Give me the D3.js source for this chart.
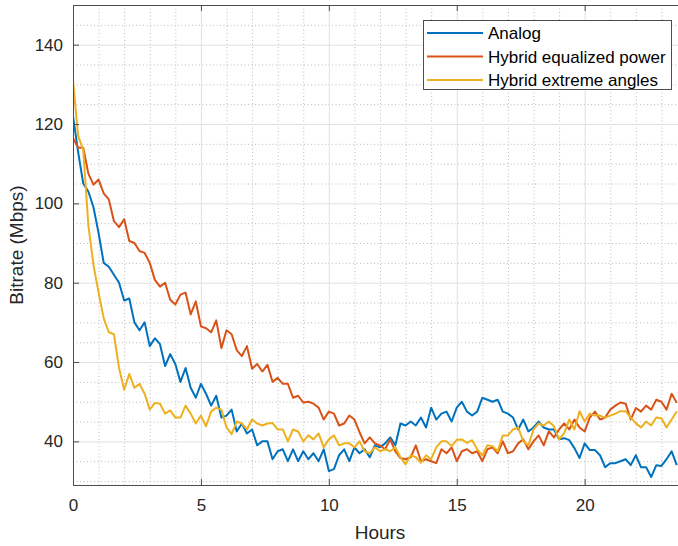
<!DOCTYPE html>
<html>
<head>
<meta charset="utf-8">
<script src="https://cdn.jsdelivr.net/npm/d3@7"></script>
<style>
  html, body { margin: 0; padding: 0; background: #fff; overflow: hidden; }
  svg { display: block; font-family: "Liberation Sans", Arial, sans-serif; }
</style>
</head>
<body>
<div id="chart"></div>
<script>
// sample spacing in hours
const STEP = 0.2;

const analog = [
  122, 113, 105, 103, 99, 92.5, 85, 84, 82, 80,
  75.5, 76, 70, 68, 70, 64, 66, 64.5, 59, 62,
  59.5, 55, 58.5, 53.5, 51, 54.5, 52, 49, 51.5, 46,
  46.5, 48, 42.5, 44.5, 42, 43, 39, 40, 40, 35.5,
  37.5, 38, 35, 38, 35, 37.5, 35.5, 37, 35, 38,
  32.5, 33, 36.5, 38, 35, 38.5, 37, 38, 36, 39,
  38.5, 39.5, 41, 39, 44.5, 44, 45, 44, 46, 43.5,
  48.5, 45.5, 47, 47.5, 45, 48.5, 50, 47.5, 46.5, 47.5,
  51, 50.5, 50, 50.5, 47.5, 47, 46, 43, 45.5, 42.5,
  43.5, 45, 43.5, 43, 43, 40.5, 40.8, 40.3, 38.3, 35.8,
  39.5, 37.8, 37.8, 36.5, 33.5, 34.5, 34.5, 35, 35.5, 34,
  36.5, 33.5, 33.5, 31, 34, 33.8, 35.5, 37.5, 34
];

const hybridEqualized = [
  116.5, 114, 114, 107.5, 104.7, 106, 102.5, 101, 95.5, 94,
  96, 90.5, 90, 88, 87.5, 85, 80.7, 79, 80, 75.7,
  74.5, 77, 77.5, 72, 75.3, 69, 68.5, 67.5, 70.5, 63.5,
  68, 67, 63, 61.5, 64, 58.3, 59.5, 57.6, 59.3, 55,
  56, 54.5, 54.5, 51, 51.5, 49.8, 50, 49.5, 48.5, 45.5,
  47.5, 47, 44, 44.5, 46.5, 45.5, 42.3, 39.5, 41, 39.5,
  39, 38, 40.5, 37.5, 35.8, 35.5, 36, 39, 35, 35.5,
  35, 34.5, 38, 37, 38.5, 35, 37.5, 38, 37, 37.5,
  35, 38, 38.5, 37, 40, 37, 37.5, 39.5, 40.5, 38,
  40, 41.5, 39, 42.5, 41, 43, 44.5, 43, 45.5, 43.5,
  42.5, 46, 47.5, 45.5, 46, 48, 49, 49.8, 49.5, 45.5,
  48.4, 47.5, 49, 48, 50.5, 50, 48, 52, 49.7
];

const hybridExtreme = [
  131, 117, 113.5, 94.5, 84.5, 77.5, 71, 67.5, 67, 58.5,
  53, 57, 53.5, 54.5, 52, 48, 49.7, 49.5, 47, 47.8,
  46, 46, 49, 47, 44.5, 46.5, 43.8, 47.5, 48.5, 48,
  43.5, 41.8, 45, 44.5, 43, 45.5, 44.5, 44, 44.5, 44.6,
  43, 43, 40, 43, 42.5, 40, 41.5, 40.5, 42, 38.5,
  40.5, 41.5, 39, 39.5, 39.5, 38.5, 40, 37.5, 37, 38.5,
  37.5, 38, 37.5, 38.5, 36, 34.2, 36.5, 36, 34.6, 36.5,
  35.5, 38.5, 40, 40, 38.8, 40.4, 40.5, 39.6, 40.3, 38,
  36.5, 39, 38.8, 37.5, 41.5, 41.5, 43, 43.5, 40, 39,
  43, 44.5, 44, 45, 43.8, 40.5, 42.1, 45.5, 43, 47.6,
  45, 47, 46.5, 46.5, 46, 46.5, 47, 47.6, 47.6, 46,
  44.6, 43.5, 45, 44, 46, 45.8, 43.5, 45.5, 47.6
];

const seriesNames = ['Analog', 'Hybrid equalized power', 'Hybrid extreme angles'];
const xTicks = [0, 5, 10, 15, 20];
const yTicks = [40, 60, 80, 100, 120, 140];

(function() {
  'use strict';

  const CONFIG = {
    width: 678,
    height: 546,
    left: 73,
    top: 5,
    plotW: 614,
    plotH: 480,
    xMax: 24,
    yMin: 29,
    yMax: 150,
    colors: ['#0072BD', '#D95319', '#EDB120'],
    axisColor: '#4d4d4d',
    textColor: '#262626'
  };

  const svg = d3.select('#chart')
    .append('svg')
    .attr('width', CONFIG.width)
    .attr('height', CONFIG.height);

  const x = d3.scaleLinear().domain([0, CONFIG.xMax]).range([CONFIG.left, CONFIG.left + CONFIG.plotW]);
  const y = d3.scaleLinear().domain([CONFIG.yMin, CONFIG.yMax]).range([CONFIG.top + CONFIG.plotH, CONFIG.top]);
  const x0 = CONFIG.left, x1 = CONFIG.left + CONFIG.plotW;
  const y0 = CONFIG.top + CONFIG.plotH, y1 = CONFIG.top;

  // minor grid (dotted)
  const minorX = d3.range(1, CONFIG.xMax).filter(v => v % 5 !== 0);
  const minorY = d3.range(30, CONFIG.yMax, 5).filter(v => v % 20 !== 0);

  svg.append('g').selectAll('line')
    .data(minorX).enter().append('line')
    .attr('x1', d => x(d) + 0.5).attr('x2', d => x(d) + 0.5)
    .attr('y1', y1).attr('y2', y0)
    .attr('stroke', '#bcbcbc').attr('stroke-width', 1)
    .attr('stroke-dasharray', '1,2.5');

  svg.append('g').selectAll('line')
    .data(minorY).enter().append('line')
    .attr('x1', x0).attr('x2', x1)
    .attr('y1', d => y(d) + 0.5).attr('y2', d => y(d) + 0.5)
    .attr('stroke', '#bcbcbc').attr('stroke-width', 1)
    .attr('stroke-dasharray', '1,2.5');

  // major grid
  svg.append('g').selectAll('line')
    .data(xTicks.filter(d => d > 0)).enter().append('line')
    .attr('x1', d => x(d) + 0.5).attr('x2', d => x(d) + 0.5)
    .attr('y1', y1).attr('y2', y0)
    .attr('stroke', '#e0e0e0').attr('stroke-width', 1);

  svg.append('g').selectAll('line')
    .data(yTicks).enter().append('line')
    .attr('x1', x0).attr('x2', x1)
    .attr('y1', d => y(d) + 0.5).attr('y2', d => y(d) + 0.5)
    .attr('stroke', '#e0e0e0').attr('stroke-width', 1);

  // data lines
  svg.append('clipPath').attr('id', 'plot-clip')
    .append('rect')
    .attr('x', x0).attr('y', y1)
    .attr('width', CONFIG.plotW).attr('height', CONFIG.plotH);

  const allSeries = [analog, hybridEqualized, hybridExtreme];
  const line = d3.line()
    .x((d, i) => x(i * STEP))
    .y(d => y(d));

  const lines = svg.append('g').attr('clip-path', 'url(#plot-clip)');
  allSeries.forEach((values, k) => {
    lines.append('path')
      .datum(values)
      .attr('d', line)
      .attr('fill', 'none')
      .attr('stroke', CONFIG.colors[k])
      .attr('stroke-width', 2)
      .attr('stroke-linejoin', 'round');
  });

  // axes
  const xAxis = d3.axisBottom(x).tickValues(xTicks).tickSizeInner(-6).tickSizeOuter(0).tickPadding(14);
  const xTop = d3.axisTop(x).tickValues(xTicks).tickSizeInner(-6).tickSizeOuter(0).tickFormat('');
  const yAxis = d3.axisLeft(y).tickValues(yTicks).tickSizeInner(-6).tickSizeOuter(0).tickPadding(10);

  const styleAxis = g => {
    g.select('.domain').attr('stroke', CONFIG.axisColor);
    g.selectAll('.tick line').attr('stroke', CONFIG.axisColor);
    g.selectAll('.tick text')
      .attr('fill', CONFIG.textColor)
      .attr('font-size', '17px')
      .attr('font-family', '"Liberation Sans", Arial, sans-serif');
  };

  svg.append('g').attr('transform', `translate(0,${y0})`).call(xAxis).call(styleAxis);
  svg.append('g').attr('transform', `translate(0,${y1})`).call(xTop).call(styleAxis);
  svg.append('g').attr('transform', `translate(${x0},0)`).call(yAxis).call(styleAxis);

  // axis labels
  svg.append('text')
    .attr('x', CONFIG.left + CONFIG.plotW / 2)
    .attr('y', 539)
    .attr('text-anchor', 'middle')
    .attr('fill', CONFIG.textColor)
    .attr('font-size', '19px')
    .text('Hours');

  svg.append('text')
    .attr('transform', `translate(23,${CONFIG.top + CONFIG.plotH / 2}) rotate(-90)`)
    .attr('text-anchor', 'middle')
    .attr('fill', CONFIG.textColor)
    .attr('font-size', '19px')
    .text('Bitrate (Mbps)');

  // legend
  const legend = svg.append('g').attr('transform', 'translate(423,20)');
  legend.append('rect')
    .attr('x', 0.5).attr('y', 0.5)
    .attr('width', 248).attr('height', 69)
    .attr('fill', '#fff')
    .attr('stroke', CONFIG.axisColor)
    .attr('stroke-width', 1);

  seriesNames.forEach((name, i) => {
    const ly = 13 + i * 23.5;
    legend.append('line')
      .attr('x1', 4).attr('x2', 60)
      .attr('y1', ly).attr('y2', ly)
      .attr('stroke', CONFIG.colors[i])
      .attr('stroke-width', 2);
    legend.append('text')
      .attr('x', 65)
      .attr('y', ly + 6)
      .attr('fill', '#000')
      .attr('font-size', '17px')
      .text(name);
  });
})();
</script>
</body>
</html>
